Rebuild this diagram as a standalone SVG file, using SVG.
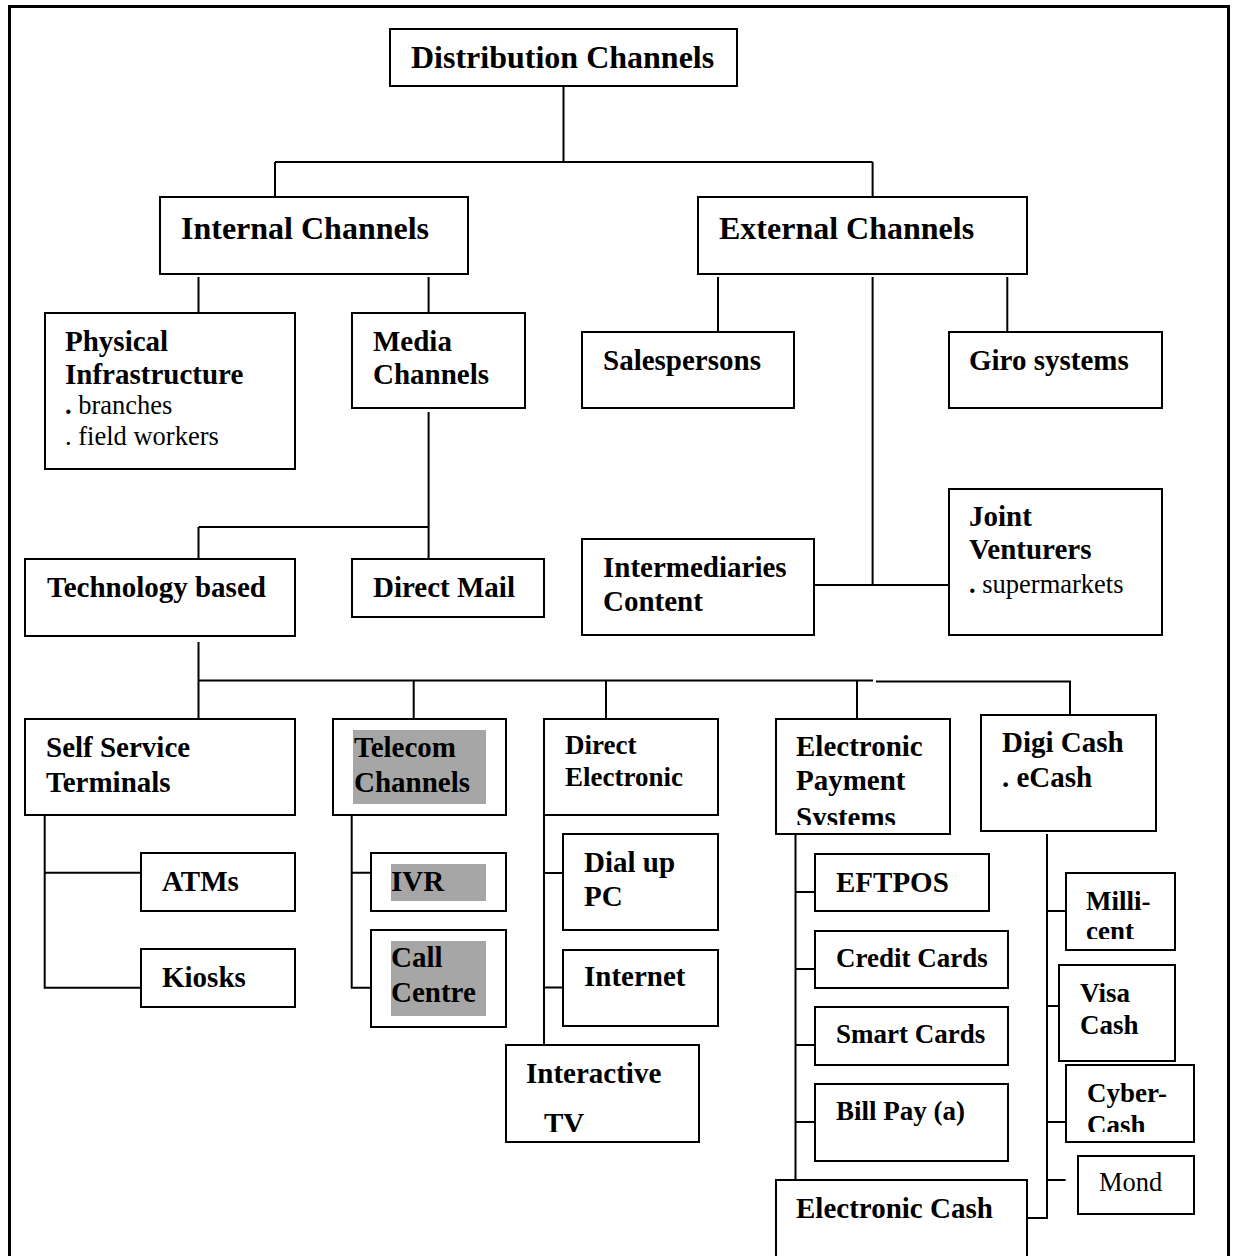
<svg xmlns="http://www.w3.org/2000/svg" width="1236" height="1256" viewBox="0 0 1236 1256">
<style>
.box{fill:#fff;stroke:#000;stroke-width:2}
.hl{fill:#a6a6a6;stroke:none}
.ln{fill:none;stroke:#000;stroke-width:2}
text{font-family:"Liberation Serif","Times New Roman",serif;fill:#000}
.b{font-weight:bold;font-size:29px}
.b27{font-weight:bold;font-size:27px}
.b32{font-weight:bold;font-size:32px}
.r{font-weight:normal;font-size:26.5px}
</style>
<defs>
<clipPath id="clipSys"><rect x="776" y="719" width="174" height="106"/></clipPath>
<clipPath id="clipCent"><rect x="1065" y="872" width="110" height="67"/></clipPath>
<clipPath id="clipCyber"><rect x="1065" y="1064" width="129" height="68"/></clipPath>
<clipPath id="clipTV"><rect x="505" y="1045" width="194" height="87"/></clipPath>
</defs>
<rect x="0" y="0" width="1236" height="1256" fill="#fff"/>
<path d="M9.5,1256 V6.5 H1228.5 V1256" fill="none" stroke="#000" stroke-width="3"/>

<g id="connectors">
<path class="ln" d="M563.5,86 V162 M275,162 H872.6 M275,162 V199 M872.6,162 V199"/>
<path class="ln" d="M198.5,277 V315 M428.6,277 V315"/>
<path class="ln" d="M718,277 V334 M872.6,277 V585 M1007.3,277 V334 M814.5,585 H949"/>
<path class="ln" d="M428.6,412 V566 M198.5,527 H428.6 M198.5,527 V562"/>
<path class="ln" d="M198.5,642 V680.5 H873 M876,681.5 H1070 V716 M198.5,680.5 V720 M413.7,680.5 V720 M606,680.5 V720 M857,680.5 V720"/>
<path class="ln" d="M44.7,815 V987.7 H141 M44.7,872.7 H141"/>
<path class="ln" d="M351.7,815 V987.7 H371 M351.7,872.7 H371"/>
<path class="ln" d="M544,815 V1045 M544,873 H563 M544,987.5 H563"/>
<path class="ln" d="M795.5,834 V1180 M795.5,892 H836 M795.5,969 H815 M795.5,1045 H815 M795.5,1122 H815"/>
<path class="ln" d="M1047,834 V1218 H1027 M1047,911 H1065.6 M1047,1006 H1066.6 M1047,1122 H1065.6 M1047,1180 H1065.6"/>
</g>

<g id="n-distribution">
<rect class="box" x="390" y="29" width="347" height="57"/>
<text class="b32" x="411" y="68">Distribution Channels</text>
</g>
<g id="n-internal">
<rect class="box" x="160" y="197" width="308" height="77"/>
<text class="b32" x="181" y="238.5">Internal Channels</text>
</g>
<g id="n-external">
<rect class="box" x="698" y="197" width="329" height="77"/>
<text class="b32" x="719" y="238.5">External Channels</text>
</g>
<g id="n-physical">
<rect class="box" x="45" y="313" width="250" height="156"/>
<text class="b" x="65" y="351">Physical</text>
<text class="b" x="65" y="384">Infrastructure</text>
<text class="r" x="65" y="414"><tspan font-weight="bold">.</tspan> branches</text>
<text class="r" x="65" y="445">. field workers</text>
</g>
<g id="n-media">
<rect class="box" x="352" y="313" width="173" height="95"/>
<text class="b" x="373" y="351">Media</text>
<text class="b" x="373" y="384">Channels</text>
</g>
<g id="n-salespersons">
<rect class="box" x="582" y="332" width="212" height="76"/>
<text class="b" x="603" y="370">Salespersons</text>
</g>
<g id="n-giro">
<rect class="box" x="949" y="332" width="213" height="76"/>
<text class="b" x="969" y="370">Giro systems</text>
</g>
<g id="n-intermediaries">
<rect class="box" x="582" y="539" width="232" height="96"/>
<text class="b" x="603" y="577">Intermediaries</text>
<text class="b" x="603" y="611">Content</text>
</g>
<g id="n-joint">
<rect class="box" x="949" y="489" width="213" height="146"/>
<text class="b" x="969" y="526">Joint</text>
<text class="b" x="969" y="559">Venturers</text>
<text class="r" x="969" y="593"><tspan font-weight="bold">.</tspan> supermarkets</text>
</g>
<g id="n-technology">
<rect class="box" x="25" y="559" width="270" height="77"/>
<text class="b" x="47" y="597">Technology based</text>
</g>
<g id="n-directmail">
<rect class="box" x="352" y="559" width="192" height="58"/>
<text class="b" x="373" y="597">Direct Mail</text>
</g>
<g id="n-selfservice">
<rect class="box" x="25" y="719" width="270" height="96"/>
<text class="b" x="46" y="756.5">Self Service</text>
<text class="b" x="46" y="791.5">Terminals</text>
</g>
<g id="n-telecom">
<rect class="box" x="333" y="719" width="173" height="96"/>
<rect class="hl" x="353" y="730" width="133" height="74"/>
<text class="b" x="354" y="756.5">Telecom</text>
<text class="b" x="354" y="791.5">Channels</text>
</g>
<g id="n-directelectronic">
<rect class="box" x="544" y="719" width="174" height="96"/>
<text class="b27" x="565" y="754">Direct</text>
<text class="b27" x="565" y="786">Electronic</text>
</g>
<g id="n-eps">
<rect class="box" x="776" y="719" width="174" height="115"/>
<text class="b" x="796" y="756">Electronic</text>
<text class="b" x="796" y="790">Payment</text>
<text class="b" x="796" y="827" clip-path="url(#clipSys)">Systems</text>
</g>
<g id="n-digicash">
<rect class="box" x="981" y="715" width="175" height="116"/>
<text class="b" x="1002" y="752">Digi Cash</text>
<text class="b" x="1002" y="787">. eCash</text>
</g>
<g id="n-atms">
<rect class="box" x="141" y="853" width="154" height="58"/>
<text class="b" x="162" y="891">ATMs</text>
</g>
<g id="n-kiosks">
<rect class="box" x="141" y="949" width="154" height="58"/>
<text class="b" x="162" y="987">Kiosks</text>
</g>
<g id="n-ivr">
<rect class="box" x="371" y="853" width="135" height="58"/>
<rect class="hl" x="391" y="864" width="95" height="37"/>
<text class="b" x="391" y="891">IVR</text>
</g>
<g id="n-callcentre">
<rect class="box" x="371" y="930" width="135" height="97"/>
<rect class="hl" x="391" y="941" width="95" height="75"/>
<text class="b" x="391" y="966.5">Call</text>
<text class="b" x="391" y="1002">Centre</text>
</g>
<g id="n-dialup">
<rect class="box" x="563" y="834" width="155" height="96"/>
<text class="b" x="584" y="872">Dial up</text>
<text class="b" x="584" y="906">PC</text>
</g>
<g id="n-internet">
<rect class="box" x="563" y="950" width="155" height="76"/>
<text class="b" x="584" y="986">Internet</text>
</g>
<g id="n-interactivetv">
<rect class="box" x="506" y="1045" width="193" height="97"/>
<text class="b" x="526" y="1083">Interactive</text>
<text class="b" x="544" y="1133" clip-path="url(#clipTV)">TV</text>
</g>
<g id="n-eftpos">
<rect class="box" x="815" y="854" width="174" height="57"/>
<text class="b" x="836" y="891.5">EFTPOS</text>
</g>
<g id="n-creditcards">
<rect class="box" x="815" y="931" width="193" height="57"/>
<text class="b27" x="836" y="967">Credit Cards</text>
</g>
<g id="n-smartcards">
<rect class="box" x="815" y="1007" width="193" height="58"/>
<text class="b27" x="836" y="1043">Smart Cards</text>
</g>
<g id="n-billpay">
<rect class="box" x="815" y="1084" width="193" height="77"/>
<text class="b27" x="836" y="1120">Bill Pay (a)</text>
</g>
<g id="n-electroniccash">
<rect class="box" x="776" y="1180" width="251" height="90"/>
<text class="b" x="796" y="1218">Electronic Cash</text>
</g>
<g id="n-millicent">
<rect class="box" x="1066" y="873" width="109" height="77"/>
<text class="b27" x="1086" y="910">Milli-</text>
<text class="b27" x="1086" y="940" clip-path="url(#clipCent)">cent</text>
</g>
<g id="n-visacash">
<rect class="box" x="1059" y="965" width="116" height="96"/>
<text class="b27" x="1080" y="1002">Visa</text>
<text class="b27" x="1080" y="1034">Cash</text>
</g>
<g id="n-cybercash">
<rect class="box" x="1066" y="1065" width="128" height="77"/>
<text class="b27" x="1087" y="1101.5">Cyber-</text>
<text class="b27" x="1087" y="1134" clip-path="url(#clipCyber)">Cash</text>
</g>
<g id="n-mond">
<rect class="box" x="1078" y="1156" width="116" height="58"/>
<text class="r" x="1099" y="1191">Mond</text>
</g>
</svg>
